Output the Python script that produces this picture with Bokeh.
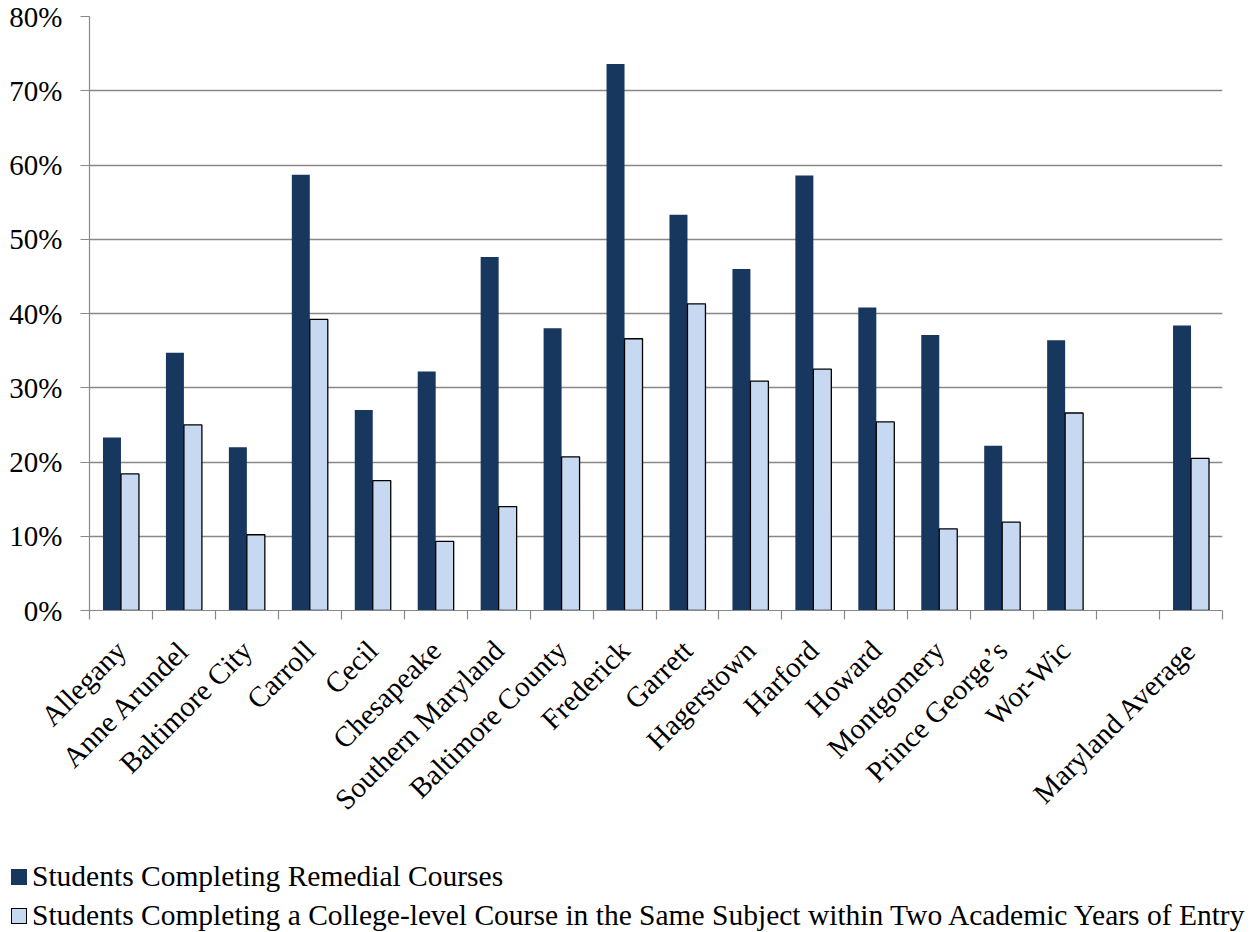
import numpy as np
from bokeh.plotting import figure
from bokeh.layouts import column
from bokeh.models import ColumnDataSource, Range1d, FixedTicker, PrintfTickFormatter, Div
from bokeh.transform import dodge
from bokeh.embed import file_html
from bokeh.resources import INLINE

# Maryland community colleges (one empty slot before the state average)
colleges = ["Allegany", "Anne Arundel", "Baltimore City", "Carroll", "Cecil", "Chesapeake",
            "Southern Maryland", "Baltimore County", "Frederick", "Garrett", "Hagerstown",
            "Harford", "Howard", "Montgomery", "Prince George\u2019s", "Wor-Wic", "",
            "Maryland Average"]

# Percent of students completing remedial courses
remedial = [23.3, 34.7, 22.0, 58.7, 27.0, 32.2, 47.6, 38.0, 73.6, 53.3, 46.0, 58.6,
            40.8, 37.1, 22.2, 36.4, None, 38.4]

# Percent completing a college-level course in the same subject within two years
college_level = [18.4, 25.0, 10.2, 39.2, 17.5, 9.3, 14.0, 20.7, 36.6, 41.3, 30.9, 32.5,
                 25.4, 11.0, 11.9, 26.6, None, 20.5]

series_names = ["Students Completing Remedial Courses",
                "Students Completing a College-level Course in the Same Subject within Two Academic Years of Entry"]

y_ticks = [0, 10, 20, 30, 40, 50, 60, 70, 80]

DARK = "#17375E"
LIGHT = "#C6D9F1"
GRID = "#888888"
FONT = "Liberation Serif"
FS = "29px"
LEGEND_FS = "29.5px"

n = len(colleges)
centers = [i + 0.5 for i in range(n)]
keep = [i for i in range(n) if remedial[i] is not None]
src = ColumnDataSource(dict(
    x=[centers[i] for i in keep],
    remedial=[remedial[i] for i in keep],
    college=[college_level[i] for i in keep],
))

p = figure(width=1257, height=846,
           x_range=Range1d(0, n), y_range=Range1d(0, 80),
           output_backend="svg", toolbar_location=None,
           min_border_left=89, min_border_right=35, min_border_top=16,
           min_border_bottom=236)
p.outline_line_color = None
p.background_fill_color = "white"
p.border_fill_color = "white"

bw = 1 / 3.5
p.vbar(x=dodge("x", -bw / 2, range=p.x_range), top="remedial", width=bw, source=src,
       fill_color=DARK, line_color=None)
p.vbar(x=dodge("x", bw / 2, range=p.x_range), top="college", width=bw, source=src,
       fill_color=LIGHT, line_color="black", line_width=1.3)

# y axis
p.yaxis.ticker = FixedTicker(ticks=y_ticks)
p.yaxis.formatter = PrintfTickFormatter(format="%d%%")
p.yaxis.axis_line_color = GRID
p.yaxis.axis_line_width = 1.2
p.yaxis.major_tick_line_color = GRID
p.yaxis.major_tick_line_width = 1.2
p.yaxis.major_tick_out = 9
p.yaxis.major_tick_in = 0
p.yaxis.minor_tick_line_color = None
p.yaxis.major_label_standoff = 18
p.yaxis.major_label_text_font = FONT
p.yaxis.major_label_text_font_size = FS
p.yaxis.major_label_text_color = "black"

p.ygrid.ticker = FixedTicker(ticks=y_ticks)
p.ygrid.grid_line_color = GRID
p.ygrid.grid_line_width = 1.3
p.xgrid.grid_line_color = None

# x axis: labels centred on each slot, tick marks on slot boundaries
p.xaxis.ticker = FixedTicker(ticks=centers, minor_ticks=list(range(n + 1)))
p.xaxis.major_label_overrides = {c: name for c, name in zip(centers, colleges)}
p.xaxis.axis_line_color = GRID
p.xaxis.axis_line_width = 1.2
p.xaxis.major_tick_line_color = None
p.xaxis.major_tick_out = 0
p.xaxis.major_tick_in = 0
p.xaxis.minor_tick_line_color = GRID
p.xaxis.minor_tick_line_width = 1.2
p.xaxis.minor_tick_out = 9
p.xaxis.minor_tick_in = 0
p.xaxis.major_label_orientation = np.pi / 4
p.xaxis.major_label_standoff = 26
p.xaxis.major_label_text_font = FONT
p.xaxis.major_label_text_font_size = FS
p.xaxis.major_label_text_color = "black"

# legend rows underneath the chart
swatches = [f"background:{DARK};", f"background:{LIGHT};border:1px solid black;"]
rows = "".join(
    f'<div style="display:flex;align-items:center;height:39px;white-space:nowrap;">'
    f'<span style="display:inline-block;box-sizing:border-box;width:16px;height:16px;'
    f'margin-right:5px;{sw}"></span>{name}</div>'
    for sw, name in zip(swatches, series_names))
legend_html = (f'<div style="font-family:\'{FONT}\';font-size:{LEGEND_FS};color:black;'
               f'padding:11px 0 0 11px;">{rows}</div>')
legend_div = Div(text=legend_html, width=1257, height=86, margin=0)

page = column(p, legend_div, spacing=0)
open("out.html", "w").write(file_html(page, INLINE))
